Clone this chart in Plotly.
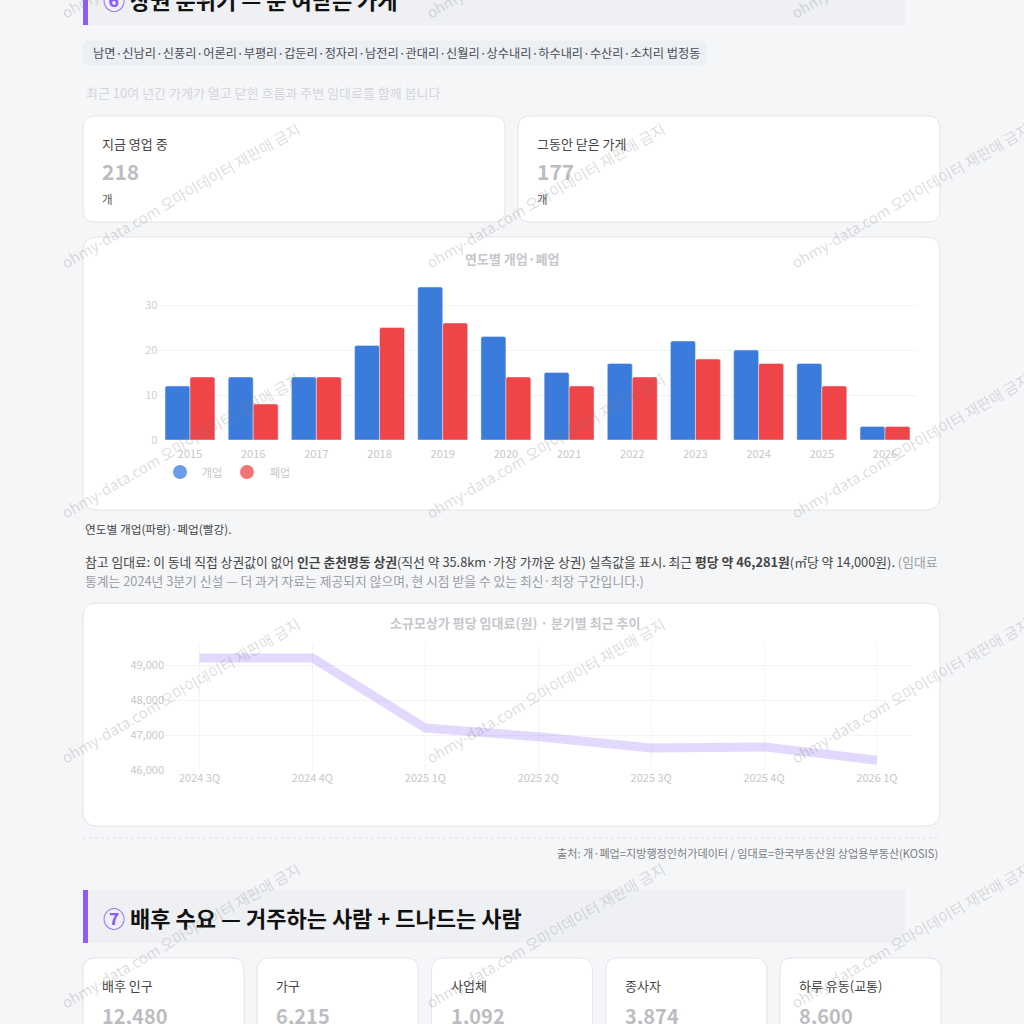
import plotly.graph_objects as go

W = H = 1024
FONT = "Noto Sans CJK KR, Noto Sans, sans-serif"

# ---------------- data ----------------
years = ["2015", "2016", "2017", "2018", "2019", "2020",
         "2021", "2022", "2023", "2024", "2025", "2026"]
opened = [12, 14, 14, 21, 34, 23, 15, 17, 22, 20, 17, 3]
closed = [14, 8, 14, 25, 26, 14, 12, 14, 18, 17, 12, 3]
bar_yticks = [0, 10, 20, 30]

quarters = ["2024 3Q", "2024 4Q", "2025 1Q", "2025 2Q", "2025 3Q", "2025 4Q", "2026 1Q"]
rent = [49200, 49200, 47200, 46950, 46630, 46660, 46281]
rent_yticks = [46000, 47000, 48000, 49000]

region_tag = "남면·신남리·신풍리·어론리·부평리·갑둔리·정자리·남전리·관대리·신월리·상수내리·하수내리·수산리·소치리 법정동"
kpi_top = [("지금 영업 중", "218"), ("그동안 닫은 가게", "177")]
kpi_bottom = [("배후 인구", "12,480"), ("가구", "6,215"), ("사업체", "1,092"),
              ("종사자", "3,874"), ("하루 유동(교통)", "8,600")]

BLUE = "#3b7bdc"
RED = "#ef4548"
PURPLE = "#8b5cf6"
BLUR = "#c6c7cc"


def X(px):
    return px / W


def Y(py):
    return 1 - py / H


def rrect(x0, y0, x1, y1, r, fill="#ffffff", line="#e3e5ea"):
    def P(x, y):
        return f"{X(x):.5f},{Y(y):.5f}"
    path = (f"M{P(x0 + r, y0)} L{P(x1 - r, y0)} Q{P(x1, y0)} {P(x1, y0 + r)} "
            f"L{P(x1, y1 - r)} Q{P(x1, y1)} {P(x1 - r, y1)} L{P(x0 + r, y1)} "
            f"Q{P(x0, y1)} {P(x0, y1 - r)} L{P(x0, y0 + r)} Q{P(x0, y0)} {P(x0 + r, y0)} Z")
    return dict(type="path", path=path, xref="paper", yref="paper",
                fillcolor=fill, line=dict(color=line, width=1), layer="below")


def rect(x0, y0, x1, y1, fill, layer="below"):
    return dict(type="rect", xref="paper", yref="paper", x0=X(x0), x1=X(x1),
                y0=Y(y1), y1=Y(y0), fillcolor=fill, line=dict(width=0), layer=layer)


def ann(x, y, text, size=13, color="#444", xanchor="left", **kw):
    return dict(x=X(x), y=Y(y), xref="paper", yref="paper", text=text, showarrow=False,
                xanchor=xanchor, yanchor="middle",
                font=dict(size=size, color=color, family=FONT), **kw)


fig = go.Figure()

# bar chart
fig.add_trace(go.Bar(x=years, y=opened, name="개업", marker=dict(color=BLUE, cornerradius=2),
                     xaxis="x", yaxis="y", showlegend=False))
fig.add_trace(go.Bar(x=years, y=closed, name="폐업", marker=dict(color=RED, cornerradius=2),
                     xaxis="x", yaxis="y", showlegend=False))

# rent line chart
fig.add_trace(go.Scatter(x=quarters, y=rent, mode="lines", xaxis="x2", yaxis="y2",
                         line=dict(color="rgba(139,92,246,0.24)", width=9),
                         showlegend=False, cliponaxis=False))

shapes = []
# section 6 header band
shapes.append(rect(83, -20, 905, 25, "#eef0f3"))
shapes.append(rect(83, -20, 88, 25, PURPLE))
# region pill
shapes.append(rrect(83, 41, 706, 65, 7, fill="#eceff3", line="#eceff3"))
# top KPI cards
shapes.append(rrect(83, 116, 505, 222, 12))
shapes.append(rrect(518, 116, 940, 222, 12))
# chart cards
shapes.append(rrect(83, 237, 940, 510, 14))
shapes.append(rrect(83, 603, 940, 826, 14))
# dashed separator
shapes.append(dict(type="line", xref="paper", yref="paper", x0=X(83), x1=X(940),
                   y0=Y(838), y1=Y(838), line=dict(color="#e1e3e8", width=1, dash="dot"),
                   layer="below"))
# section 7 header band
shapes.append(rect(83, 890, 905, 943, "#eef0f3"))
shapes.append(rect(83, 890, 88, 943, PURPLE))
# bottom KPI cards
for i in range(5):
    x0 = 83 + i * 174.25
    shapes.append(rrect(x0, 958, x0 + 161, 1070, 12))
# legend circles (bar chart)
shapes.append(dict(type="circle", xref="paper", yref="paper", x0=X(173), x1=X(187),
                   y0=Y(479), y1=Y(465), fillcolor="rgba(59,123,220,0.75)",
                   line=dict(width=0), layer="above"))
shapes.append(dict(type="circle", xref="paper", yref="paper", x0=X(240), x1=X(254),
                   y0=Y(479), y1=Y(465), fillcolor="rgba(239,69,72,0.75)",
                   line=dict(width=0), layer="above"))

annotations = []
annotations.append(ann(101, -1, f'<b><span style="color:{PURPLE}">⑥</span> 상권 분위기 — 문 여닫은 가게</b>',
                       size=22, color="#111"))
annotations.append(ann(91, 53, region_tag, size=12.2, color="#4a4d55"))
annotations.append(ann(84, 92, "최근 10여 년간 가게가 열고 닫힌 흐름과 주변 임대료를 함께 봅니다",
                       size=13, color="#d4d5da"))
for (label, val), x0 in zip(kpi_top, [100, 535]):
    annotations.append(ann(x0, 143, label, size=13, color="#444"))
    annotations.append(ann(x0, 171, f"<b>{val}</b>", size=21, color="#bcbdc2"))
    annotations.append(ann(x0, 199, "개", size=11.5, color="#555"))
# chart titles (blurred in reference)
annotations.append(ann(512, 258, "<b>연도별 개업·폐업</b>", size=13, color=BLUR, xanchor="center"))
annotations.append(ann(212, 472, "개업", size=11, color=BLUR, xanchor="center"))
annotations.append(ann(280, 472, "폐업", size=11, color=BLUR, xanchor="center"))
annotations.append(ann(83, 528, "연도별 개업(파랑)·폐업(빨강).", size=11.7, color="#444"))
annotations.append(ann(
    83, 561,
    "참고 임대료: 이 동네 직접 상권값이 없어 <b>인근 춘천명동 상권</b>(직선 약 35.8km·가장 가까운 상권) "
    "실측값을 표시. 최근 <b>평당 약 46,281원</b>(㎡당 약 14,000원). "
    '<span style="color:#9a9ca3">(임대료</span>',
    size=12.8, color="#444"))
annotations.append(ann(
    83, 580,
    "통계는 2024년 3분기 신설 — 더 과거 자료는 제공되지 않으며, 현 시점 받을 수 있는 최신·최장 구간입니다.)",
    size=12.8, color="#9a9ca3"))
annotations.append(ann(515, 622, "<b>소규모상가 평당 임대료(원) · 분기별 최근 추이</b>",
                       size=13, color=BLUR, xanchor="center"))
annotations.append(ann(940, 853,
                       "출처: 개·폐업=지방행정인허가데이터 / 임대료=한국부동산원 상업용부동산(KOSIS)",
                       size=11.1, color="#7a7d85", xanchor="right"))
annotations.append(ann(101, 917, f'<b><span style="color:{PURPLE}">⑦</span> 배후 수요 — 거주하는 사람 + 드나드는 사람</b>',
                       size=22, color="#111"))
for i, (label, val) in enumerate(kpi_bottom):
    x0 = 83 + i * 174.25 + 17
    annotations.append(ann(x0, 985, label, size=13, color="#444"))
    annotations.append(ann(x0, 1015, f"<b>{val}</b>", size=20, color="#bcbdc2"))

# watermarks
for cy in [-55, 195, 445, 690, 935]:
    for cx in [180, 545, 910]:
        annotations.append(dict(x=X(cx), y=Y(cy), xref="paper", yref="paper",
                                text="ohmy-data.com 오마이데이터 재판매 금지", showarrow=False,
                                textangle=-30, xanchor="center", yanchor="middle",
                                font=dict(size=15, color="rgba(120,120,130,0.26)", family=FONT)))

tick_font = dict(size=11, color=BLUR, family=FONT)

fig.update_layout(
    width=W, height=H,
    margin=dict(l=0, r=0, t=0, b=0),
    paper_bgcolor="#f5f6f8",
    plot_bgcolor="rgba(0,0,0,0)",
    font=dict(family=FONT),
    barmode="group", bargap=0.21, bargroupgap=0.0,
    shapes=shapes, annotations=annotations,
    xaxis=dict(domain=[X(158.4), X(916.6)], anchor="y", type="category",
               showgrid=False, zeroline=False, showline=False, ticks="",
               ticklabelstandoff=6,
               tickfont=tick_font, automargin=False, fixedrange=True),
    yaxis=dict(domain=[Y(440), Y(282.5)], anchor="x", range=[0, 35],
               tickvals=bar_yticks, showgrid=True, gridcolor="#f2f3f5",
               zeroline=False, showline=False, ticks="",
               tickfont=dict(size=11, color="#cfd0d4", family=FONT), automargin=False),
    xaxis2=dict(domain=[X(165), X(911.5)], anchor="y2", type="category",
                range=[-0.306, 6.306], showgrid=True, gridcolor="#f3f4f6",
                zeroline=False, showline=False, ticks="",
                tickfont=tick_font, automargin=False),
    yaxis2=dict(domain=[Y(770), Y(644)], anchor="x2", range=[46000, 49600],
                tickvals=rent_yticks, tickformat=",", showgrid=True, gridcolor="#f3f4f6",
                zeroline=False, showline=False, ticks="",
                tickfont=tick_font, automargin=False),
)

fig.write_html("out.html",
               config={"displayModeBar": False},
               post_script="document.body.style.margin='0';document.body.style.background='#f5f6f8';")
